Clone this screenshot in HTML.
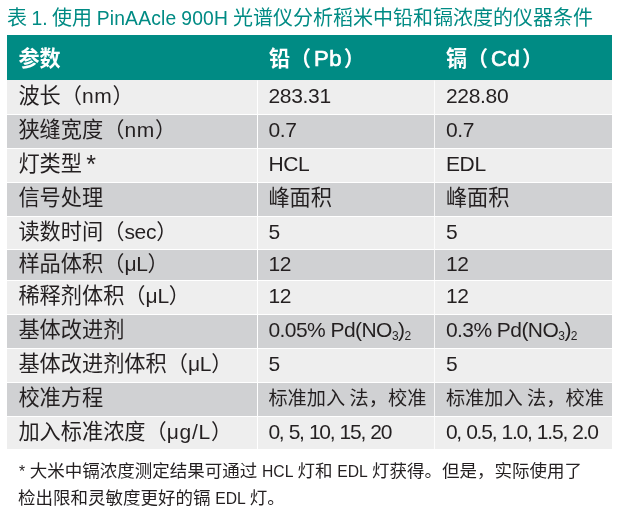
<!DOCTYPE html>
<html lang="zh-CN">
<head>
<meta charset="utf-8">
<title>表 1</title>
<style>
html,body{margin:0;padding:0;background:#fff;}
body{width:619px;height:514px;position:relative;overflow:hidden;font-family:"Liberation Sans","Noto Sans CJK SC",sans-serif;color:#231f20;}
.page{position:absolute;left:0;top:0;width:619px;height:514px;will-change:transform;}
/* CJK runs: real text in fixed-width inline blocks */
.k{display:inline-block;position:relative;vertical-align:baseline;letter-spacing:0;word-spacing:0;white-space:nowrap;overflow:visible;font-family:"Liberation Sans","Noto Sans CJK SC",sans-serif;}
.title{position:absolute;left:7.1px;top:4px;margin:0;font-weight:normal;font-size:19.5px;line-height:28px;color:#008b84;white-space:nowrap;}
.title .l{font-size:19.3px;word-spacing:-1px;}
.title .l2{letter-spacing:.2px;word-spacing:-.8px;}
table{position:absolute;left:7px;top:35.3px;width:605px;border-collapse:separate;border-spacing:0;table-layout:fixed;}
col.c1{width:250px}col.c2{width:177px}col.c3{width:178px}
th,td{padding:0 0 0 11.4px;margin:0;text-align:left;white-space:nowrap;overflow:hidden;vertical-align:top;box-sizing:border-box;}
.t,.a,.sp,thead .l,tbody .l{display:inline-block;position:relative;}
thead th{height:45px;line-height:44px;background:#008b84;color:#fff;font-weight:bold;font-size:21px;}
thead th:nth-child(n+2){padding-left:11.9px;}
thead .t{top:2px;}
thead .l{font-size:22px;margin:0 1.5px 0 3px;font-weight:normal;-webkit-text-stroke:.7px #fff;letter-spacing:.6px;}
tbody td{height:34px;line-height:30px;font-size:21px;background:#eeeeee;border-top:1px solid #fff;border-left:1px solid #fff;}
tbody td:first-child{border-left:0;}
tbody td:nth-child(2){padding-left:10.4px;}
tbody td:nth-child(3){padding-left:10.9px;border-left-color:rgba(255,255,255,.8);}
tbody tr:first-child td{border-top-color:#eee;}
tbody tr:nth-child(even) td{background:#d0d1d3;}
tbody tr.r5 td,tbody tr.r11 td{height:33px;}
tbody tr.r6 td{height:31px;}
tbody .t{top:-.3px;}
tbody tr.r5 .t{top:-.6px;}
tbody tr.r6 .t{top:-1.6px;}
tbody .l{font-size:21px;letter-spacing:-.3px;}
tbody .w{letter-spacing:.7px;}
tbody .a{font-size:25px;top:2.4px;margin-left:-1.2px;line-height:20px;}
tbody .n{letter-spacing:-1.2px;word-spacing:.5px;}
tbody .c{letter-spacing:-.55px;}
tbody .sp{width:4.4px;}
sub{font-size:12px;vertical-align:baseline;position:relative;top:2.5px;line-height:0;}
.note{position:absolute;left:18px;top:457.6px;margin:0;font-size:17.4px;line-height:27.2px;white-space:nowrap;}
.note .l{font-size:15.7px;word-spacing:.35px;}
</style>
</head>
<body>
<div class="page">
<h1 class="title"><span class="k" style="width:20px;font-size:20px">表</span><span class="l"> 1. </span><span class="k" style="width:40px;font-size:20px">使用</span><span class="l l2"> PinAAcle 900H </span><span class="k" style="width:360px;font-size:20px">光谱仪分析稻米中铅和镉浓度的仪器条件</span></h1>
<table>
<colgroup><col class="c1"><col class="c2"><col class="c3"></colgroup>
<thead>
<tr><th><span class="t"><span class="k" style="width:42.2px;font-size:21.1px">参数</span></span></th><th><span class="t"><span class="k" style="width:42.2px;font-size:21.1px">铅（</span><span class="l">Pb</span><span class="k" style="width:21.1px;font-size:21.1px">）</span></span></th><th><span class="t"><span class="k" style="width:42.2px;font-size:21.1px">镉（</span><span class="l">Cd</span><span class="k" style="width:21.1px;font-size:21.1px">）</span></span></th></tr>
</thead>
<tbody>
<tr><td><span class="t"><span class="k" style="width:63.6px;font-size:21.2px">波长（</span><span class="l w">nm</span><span class="k" style="width:21.2px;font-size:21.2px">）</span></span></td><td><span class="t"><span class="l">283.31</span></span></td><td><span class="t"><span class="l">228.80</span></span></td></tr>
<tr><td><span class="t"><span class="k" style="width:106px;font-size:21.2px">狭缝宽度（</span><span class="l w">nm</span><span class="k" style="width:21.2px;font-size:21.2px">）</span></span></td><td><span class="t"><span class="l">0.7</span></span></td><td><span class="t"><span class="l">0.7</span></span></td></tr>
<tr><td><span class="t"><span class="k" style="width:63.6px;font-size:21.2px">灯类型</span><span class="l">&nbsp;<span class="a">*</span></span></span></td><td><span class="t"><span class="l">HCL</span></span></td><td><span class="t"><span class="l">EDL</span></span></td></tr>
<tr><td><span class="t"><span class="k" style="width:84.8px;font-size:21.2px">信号处理</span></span></td><td><span class="t"><span class="k" style="width:63.6px;font-size:21.2px">峰面积</span></span></td><td><span class="t"><span class="k" style="width:63.6px;font-size:21.2px">峰面积</span></span></td></tr>
<tr class="r5"><td><span class="t"><span class="k" style="width:106px;font-size:21.2px">读数时间（</span><span class="l">sec</span><span class="k" style="width:21.2px;font-size:21.2px">）</span></span></td><td><span class="t"><span class="l">5</span></span></td><td><span class="t"><span class="l">5</span></span></td></tr>
<tr class="r6"><td><span class="t"><span class="k" style="width:106px;font-size:21.2px">样品体积（</span><span class="l">μL</span><span class="k" style="width:21.2px;font-size:21.2px">）</span></span></td><td><span class="t"><span class="l">12</span></span></td><td><span class="t"><span class="l">12</span></span></td></tr>
<tr><td><span class="t"><span class="k" style="width:127.2px;font-size:21.2px">稀释剂体积（</span><span class="l">μL</span><span class="k" style="width:21.2px;font-size:21.2px">）</span></span></td><td><span class="t"><span class="l">12</span></span></td><td><span class="t"><span class="l">12</span></span></td></tr>
<tr><td><span class="t"><span class="k" style="width:106px;font-size:21.2px">基体改进剂</span></span></td><td><span class="t"><span class="l c">0.05% Pd(NO<sub>3</sub>)<sub>2</sub></span></span></td><td><span class="t"><span class="l c">0.3% Pd(NO<sub>3</sub>)<sub>2</sub></span></span></td></tr>
<tr><td><span class="t"><span class="k" style="width:169.6px;font-size:21.2px">基体改进剂体积（</span><span class="l">μL</span><span class="k" style="width:21.2px;font-size:21.2px">）</span></span></td><td><span class="t"><span class="l">5</span></span></td><td><span class="t"><span class="l">5</span></span></td></tr>
<tr><td><span class="t"><span class="k" style="width:84.8px;font-size:21.2px">校准方程</span></span></td><td><span class="t"><span class="k" style="width:76.8px;font-size:19.2px">标准加入</span><span class="sp"> </span><span class="k" style="width:76.8px;font-size:19.2px">法，校准</span></span></td><td><span class="t"><span class="k" style="width:76.8px;font-size:19.2px">标准加入</span><span class="sp"> </span><span class="k" style="width:76.8px;font-size:19.2px">法，校准</span></span></td></tr>
<tr class="r11"><td><span class="t"><span class="k" style="width:148.4px;font-size:21.2px">加入标准浓度（</span><span class="l w">μg/L</span><span class="k" style="width:21.2px;font-size:21.2px">）</span></span></td><td><span class="t"><span class="l n">0, 5, 10, 15, 20</span></span></td><td><span class="t"><span class="l n">0, 0.5, 1.0, 1.5, 2.0</span></span></td></tr>
</tbody>
</table>
<p class="note"><span class="l" style="margin-left:1px">* </span><span class="k" style="width:227.5px;font-size:17.5px">大米中镉浓度测定结果可通过</span><span class="l"> HCL </span><span class="k" style="width:35px;font-size:17.5px">灯和</span><span class="l"> EDL </span><span class="k" style="width:210px;font-size:17.5px">灯获得。但是，实际使用了</span><br><span class="k" style="width:192.5px;font-size:17.5px">检出限和灵敏度更好的镉</span><span class="l"> EDL </span><span class="k" style="width:35px;font-size:17.5px">灯。</span></p>
</div>
</body>
</html>
